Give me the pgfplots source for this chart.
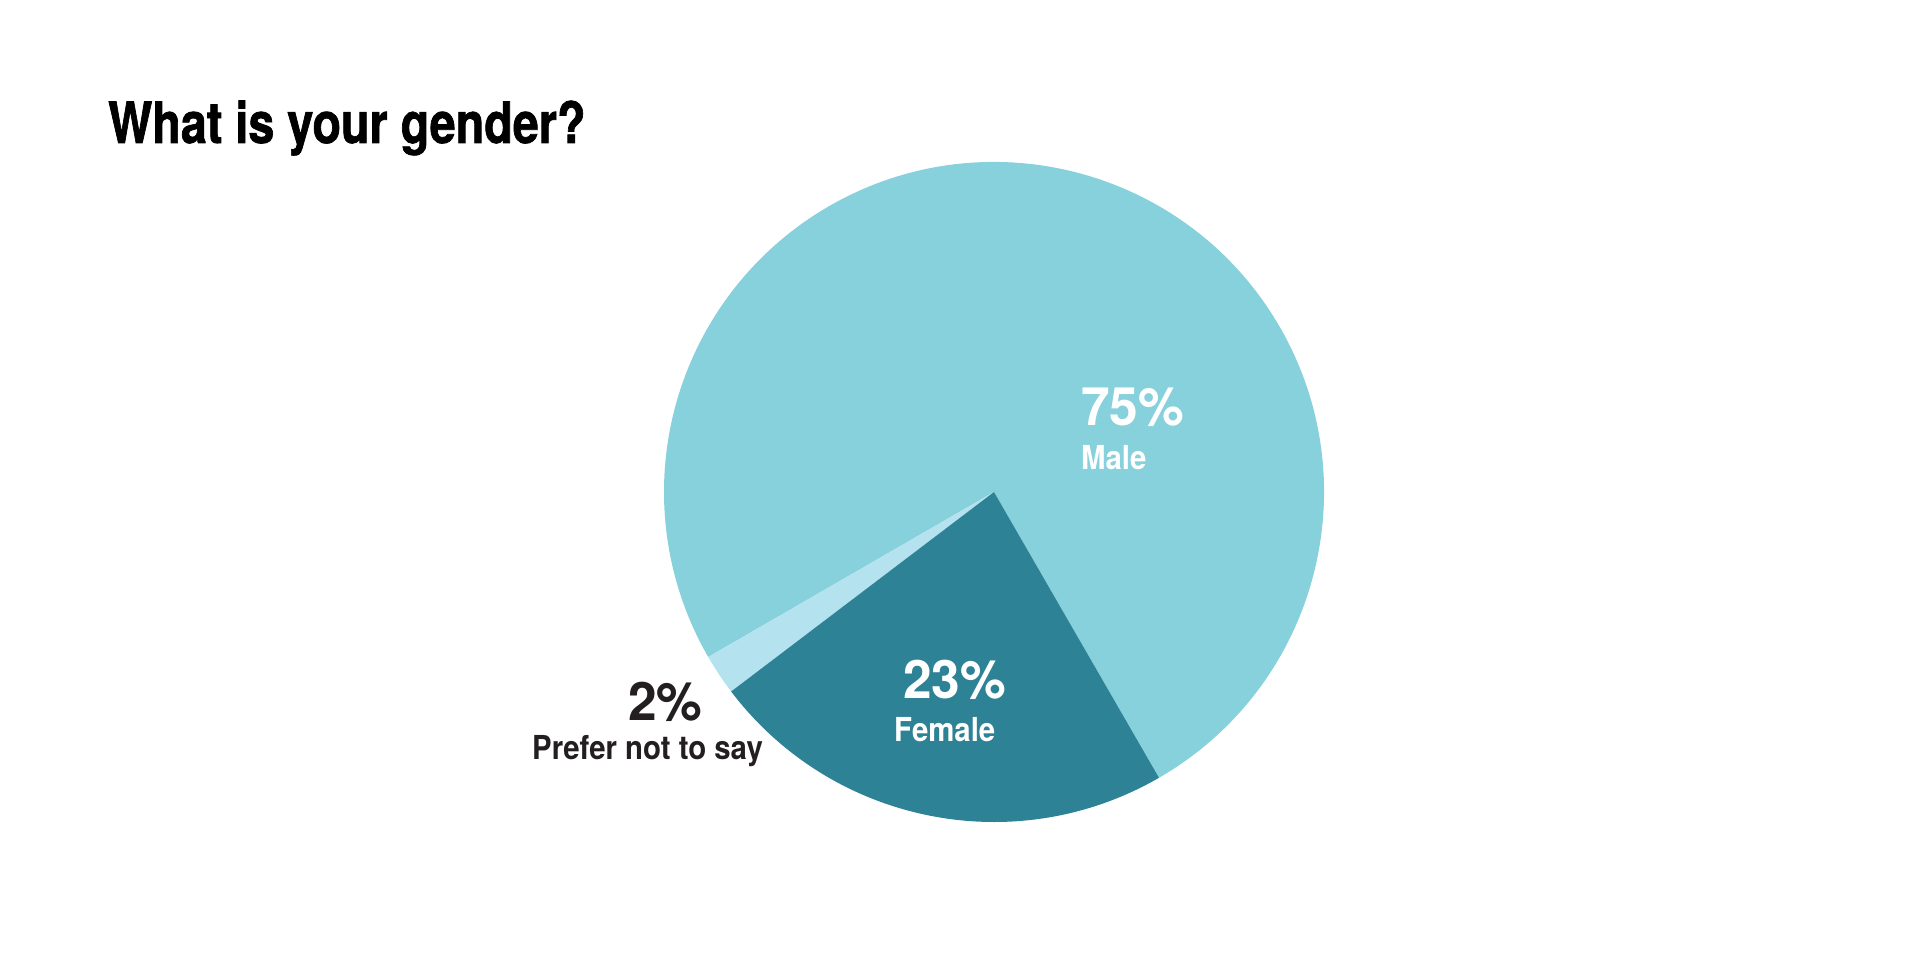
\documentclass[border=0pt]{standalone}
\usepackage{pgfplots}
\usepackage{pgfplotstable}
\pgfplotsset{compat=1.18}
\usepackage{fontspec}
\setmainfont{TeX Gyre Heros}[FakeStretch=0.81]
\newfontfamily\titlefont{TeX Gyre Heros}[FakeStretch=0.82, FakeBold=1.2]
\newfontfamily\labelfont{TeX Gyre Heros}[FakeStretch=0.89]
\newfontfamily\pctfont{TeX Gyre Heros}[FakeStretch=0.97]

\definecolor{malec}{RGB}{135,209,220}
\definecolor{femalec}{RGB}{45,130,150}
\definecolor{preferc}{RGB}{180,226,238}
\definecolor{labeldark}{RGB}{35,31,32}

% share of answers, in percent, counter-clockwise from the start angle
\pgfplotstableread{
label value
Male 75
Prefer 2
Female 23
}\piedata

\pgfplotstablegetelem{0}{value}\of\piedata \let\vmale\pgfplotsretval
\pgfplotstablegetelem{1}{value}\of\piedata \let\vprefer\pgfplotsretval
\pgfplotstablegetelem{2}{value}\of\piedata \let\vfemale\pgfplotsretval

\pgfmathsetmacro\aA{-60}
\pgfmathsetmacro\aB{\aA+3.6*\vmale}
\pgfmathsetmacro\aC{\aB+3.6*\vprefer}
\pgfmathsetmacro\aD{\aC+3.6*\vfemale}

\def\cx{994}
\def\cy{465}
\def\R{330bp}

\begin{document}
\begin{tikzpicture}
\path (0,0) rectangle (1920bp,957bp);
\begin{axis}[
    at={(0,0)}, anchor=south west,
    width=1920bp, height=957bp, scale only axis,
    xmin=0, xmax=1920, ymin=0, ymax=957,
    hide axis, clip=false,
]
% slices
\fill[malec] (axis cs:\cx,\cy) -- ++(\aA:\R) arc[start angle=\aA, end angle=\aB, radius=\R] -- cycle;
\fill[preferc] (axis cs:\cx,\cy) -- ++(\aB:\R) arc[start angle=\aB, end angle=\aC, radius=\R] -- cycle;
\fill[femalec] (axis cs:\cx,\cy) -- ++(\aC:\R) arc[start angle=\aC, end angle=\aD, radius=\R] -- cycle;

% title
\node[anchor=base west, inner sep=0pt, font=\titlefont\fontsize{57bp}{60bp}\selectfont\bfseries]
    at (axis cs:108,814) {What is your gender?};

% labels
\node[anchor=base west, inner sep=0pt, text=white, font=\pctfont\fontsize{53bp}{56bp}\selectfont\bfseries]
    at (axis cs:1081,531) {75\%};
\node[anchor=base west, inner sep=0pt, text=white, font=\labelfont\fontsize{33bp}{36bp}\selectfont\bfseries]
    at (axis cs:1081,487) {Male};
\node[anchor=base west, inner sep=0pt, text=white, font=\pctfont\fontsize{53bp}{56bp}\selectfont\bfseries]
    at (axis cs:903,258) {23\%};
\node[anchor=base west, inner sep=0pt, text=white, font=\labelfont\fontsize{33bp}{36bp}\selectfont\bfseries]
    at (axis cs:894,215) {Female};
\node[anchor=base west, inner sep=0pt, text=labeldark, font=\pctfont\fontsize{53bp}{56bp}\selectfont\bfseries]
    at (axis cs:628,236) {2\%};
\node[anchor=base west, inner sep=0pt, text=labeldark, font=\labelfont\fontsize{33bp}{36bp}\selectfont\bfseries]
    at (axis cs:532,197) {Prefer not to say};
\end{axis}
\end{tikzpicture}
\end{document}
